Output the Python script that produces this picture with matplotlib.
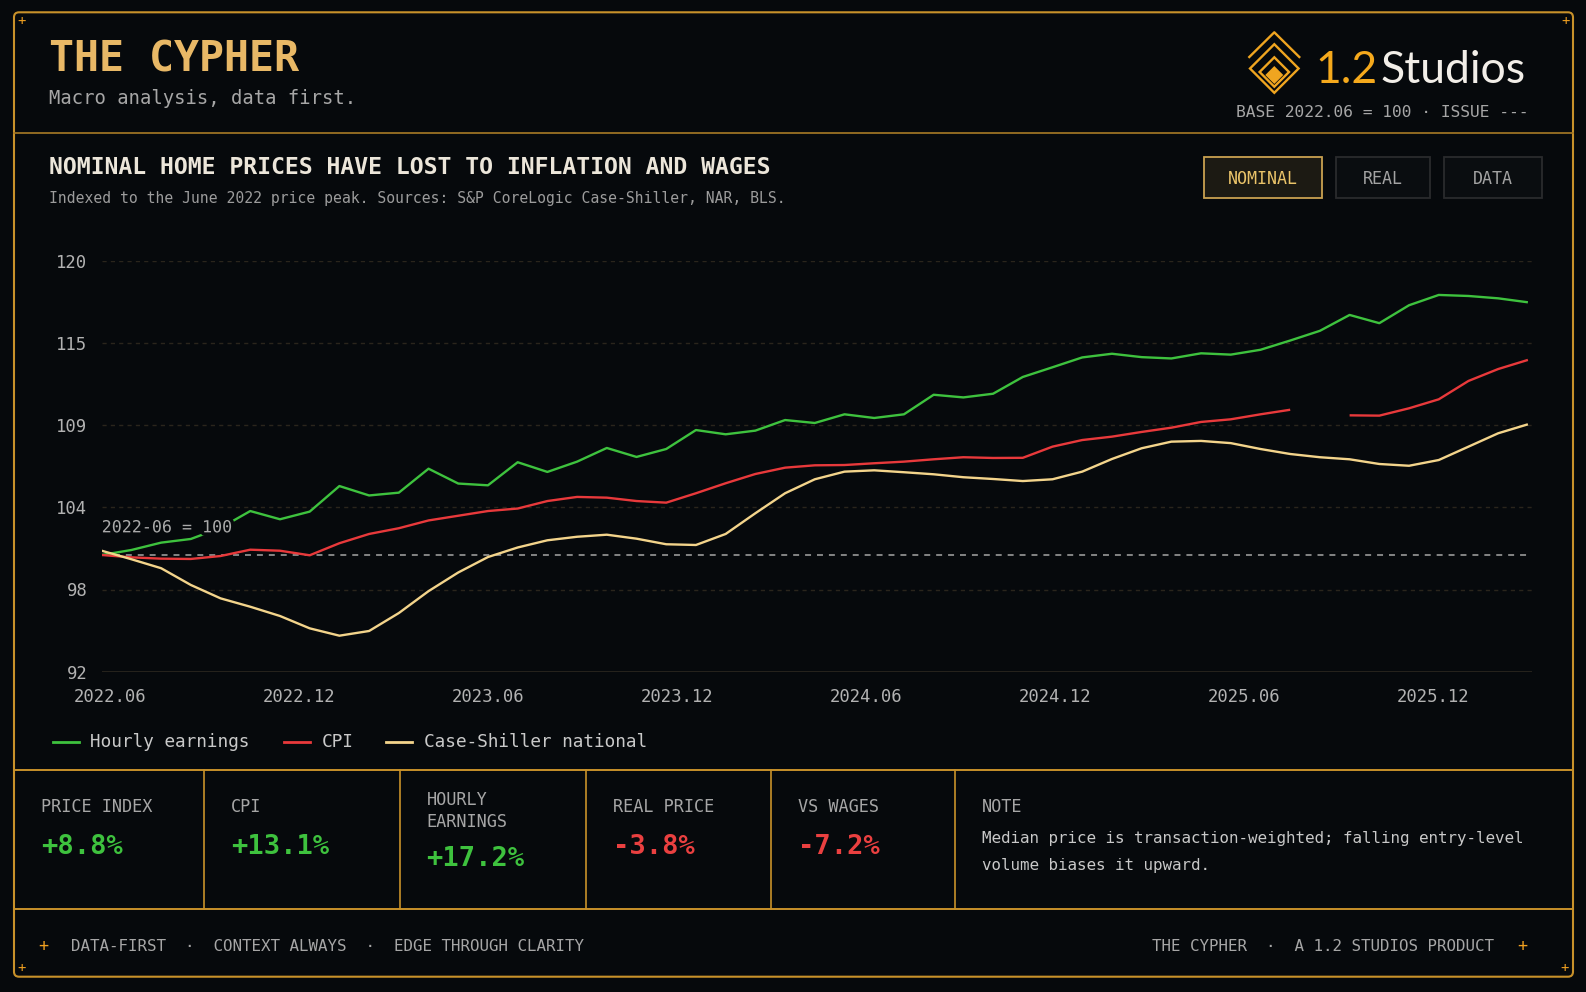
"""
The Cypher card: nominal home prices vs. CPI and hourly earnings.

Dark dashboard layout with header, indexed line chart (June 2022 = 100),
legend, a strip of headline stats and a footer.
"""

import matplotlib

matplotlib.use('Agg')

import matplotlib.pyplot as plt
import matplotlib.patheffects as pe
import numpy as np
from matplotlib.lines import Line2D
from matplotlib.patches import FancyBboxPatch, Polygon, Rectangle

# ------------------------------------------------------------------ data
hourly_earnings = [
    100.00, 100.34, 100.84, 101.09, 101.84, 102.99, 102.43, 102.95, 104.69, 104.05,
    104.24, 105.87, 104.86, 104.74, 106.31, 105.65, 106.35, 107.28, 106.67, 107.21,
    108.50, 108.21, 108.46, 109.18, 108.98, 109.57, 109.32, 109.57, 110.90, 110.72,
    110.97, 112.11, 112.77, 113.44, 113.69, 113.46, 113.37, 113.72, 113.63, 113.96,
    114.59, 115.25, 116.33, 115.77, 116.99, 117.69, 117.62, 117.46, 117.19,
]
cpi = [
    100.00, 99.84, 99.75, 99.73, 99.93, 100.36, 100.29, 99.98, 100.80, 101.43,
    101.82, 102.35, 102.67, 102.99, 103.16, 103.67, 103.95, 103.90, 103.67, 103.56,
    104.20, 104.88, 105.51, 105.94, 106.10, 106.12, 106.24, 106.35, 106.51, 106.65,
    106.60, 106.61, 107.37, 107.82, 108.05, 108.37, 108.66, 109.05, 109.23, 109.57,
    109.88, np.nan, 109.50, 109.48, 109.98, 110.59, 111.84, 112.65, 113.27,
]
case_shiller = [
    100.29, 99.71, 99.10, 97.96, 97.05, 96.48, 95.85, 95.01, 94.51, 94.83,
    96.05, 97.54, 98.81, 99.86, 100.51, 101.00, 101.24, 101.38, 101.11, 100.73,
    100.68, 101.43, 102.84, 104.20, 105.15, 105.67, 105.76, 105.63, 105.49, 105.29,
    105.17, 105.03, 105.15, 105.67, 106.53, 107.26, 107.71, 107.76, 107.61, 107.21,
    106.87, 106.65, 106.51, 106.19, 106.07, 106.46, 107.37, 108.28, 108.89,
]

series_names = ['Hourly earnings', 'CPI', 'Case-Shiller national']
series_values = [hourly_earnings, cpi, case_shiller]
series_colors = ['#3ec23e', '#e8393b', '#f3d48b']

base_value = 100
x_tick_labels = ['2022.06', '2022.12', '2023.06', '2023.12',
                 '2024.06', '2024.12', '2025.06', '2025.12']
y_tick_labels = ['92', '98', '104', '109', '115', '120']

stat_labels = ['PRICE INDEX', 'CPI', 'HOURLY\nEARNINGS', 'REAL PRICE', 'VS WAGES']
stat_values = ['+8.8%', '+13.1%', '+17.2%', '-3.8%', '-7.2%']
note_lines = ['Median price is transaction-weighted; falling entry-level',
              'volume biases it upward.']
buttons = ['NOMINAL', 'REAL', 'DATA']

# ---------------------------------------------------------------- styling
W, H = 1586, 992
BG = '#06090c'
GOLD = '#c8912a'
GOLD_TXT = '#e8b866'
GRID = '#2a251c'
MUTED = '#a6a6a6'
LIGHT = '#c9c9c9'
POS, NEG = '#3ec23e', '#ea4040'
MONO = 'DejaVu Sans Mono'

plt.rcParams['font.family'] = [MONO, 'DejaVu Sans']

fig = plt.figure(figsize=(W / 100, H / 100), dpi=100, facecolor=BG)

# full-figure layer in pixel units (y grows downward) for the card chrome
card = fig.add_axes([0, 0, 1, 1])
card.set_xlim(0, W)
card.set_ylim(H, 0)
card.axis('off')
card.set_zorder(0)

FRAME_L, FRAME_R, FRAME_T, FRAME_B = 14, 1573, 12.3, 976.7
card.add_patch(FancyBboxPatch((FRAME_L, FRAME_T), FRAME_R - FRAME_L, FRAME_B - FRAME_T,
                              boxstyle='round,pad=0,rounding_size=5',
                              fill=False, edgecolor=GOLD, lw=1.5))
for cx, cy in [(21.5, 21), (1565.5, 21.5), (22, 968), (1565, 968)]:
    card.text(cx, cy, '+', color='#f0a020', fontsize=10, ha='center', va='center')

# header
card.text(49, 71.7, 'THE CYPHER', color=GOLD_TXT, fontsize=30, fontweight='bold',
          va='baseline')
card.text(49, 104.5, 'Macro analysis, data first.', color=MUTED, fontsize=13.6,
          va='baseline')
card.plot([FRAME_L, FRAME_R], [132.7, 132.7], color='#a87a26', lw=1.2)

# logo mark
lx, lw_ = 1274.3, 1.7
card.add_line(Line2D([lx - 25, lx, lx + 25], [57, 32.3, 57], color='#f0a520', lw=lw_))
for cy, half, filled in [(68.5, 24.3, False), (72, 14.7, False), (75, 7.3, True)]:
    card.add_patch(Polygon([(lx, cy - half), (lx + half, cy), (lx, cy + half), (lx - half, cy)],
                           closed=True, fill=filled, facecolor='#f0a520',
                           edgecolor='#f0a520', lw=lw_))
card.text(1315, 83, '1.2', color='#f5a91c', fontsize=32, family='Lato',
          fontweight='normal', va='baseline')
card.text(1380, 83, 'Studios', color='#f2eee8', fontsize=32, family='Lato',
          fontweight='normal', va='baseline')
card.text(1528, 117, 'BASE 2022.06 = 100 \u00b7 ISSUE ---', color=MUTED, fontsize=11.7,
          ha='right', va='baseline')

# chart heading
card.text(49, 174, 'NOMINAL HOME PRICES HAVE LOST TO INFLATION AND WAGES',
          color='#ece6da', fontsize=16.7, fontweight='bold', va='baseline')
card.text(49, 202.5, 'Indexed to the June 2022 price peak. Sources: S&P CoreLogic '
          'Case-Shiller, NAR, BLS.', color='#9c9c9c', fontsize=10.6, va='baseline')

# toggle buttons, first one active
btn_x = [(1204, 1321.7), (1336, 1430.3), (1444.3, 1541.7)]
for i, (label, (x0, x1)) in enumerate(zip(buttons, btn_x)):
    active = i == 0
    card.add_patch(Rectangle((x0, 157.3), x1 - x0, 40.4,
                             facecolor='#1c1a13' if active else '#0a0d10',
                             edgecolor='#c9a150' if active else '#2a2b2d', lw=1.3))
    card.text((x0 + x1) / 2, 183.6, label, color='#ebc469' if active else '#a3a3a3',
              fontsize=12, ha='center', va='baseline')

# ------------------------------------------------------------------ chart
AX_L, AX_R, AX_T, AX_B = 101.7, 1531.7, 260.7, 671.7
ax = fig.add_axes([AX_L / W, 1 - AX_B / H, (AX_R - AX_L) / W, (AX_B - AX_T) / H])
ax.set_zorder(2)
ax.patch.set_alpha(0)

# samples are evenly spaced; x is measured in months since 2022.06
px_per_month = 188.9 / 6
months = np.linspace(-0.28, 45.02, len(hourly_earnings))
ax.set_xlim(months[0], months[0] + (AX_R - AX_L) / px_per_month)
Y_LO, Y_HI = 92.06, 120.02
ax.set_ylim(Y_LO, Y_HI)

y_ticks = np.linspace(Y_LO, Y_HI, len(y_tick_labels))
ax.set_yticks(y_ticks)
ax.set_yticklabels(y_tick_labels)
ax.set_xticks(np.arange(len(x_tick_labels)) * 6)
ax.set_xticklabels(x_tick_labels)
ax.tick_params(axis='both', length=0, colors='#b2b2b2', labelsize=12.4)
ax.tick_params(axis='y', pad=10.4)
ax.tick_params(axis='x', pad=12)
for s in ax.spines.values():
    s.set_visible(False)

for y in y_ticks[1:]:
    ax.axhline(y, color=GRID, lw=1, dashes=(3, 3), zorder=1)
ax.axhline(y_ticks[0], color='#2c2820', lw=1.2, zorder=1)
ax.axhline(base_value, color='#8e8e8e', lw=1.3, dashes=(3.3, 3.3), zorder=1)

for name, vals, color in zip(series_names, series_values, series_colors):
    ax.plot(months, vals, color=color, lw=1.7, solid_joinstyle='round',
            solid_capstyle='butt', zorder=3, label=name)

ax.annotate('2022-06 = 100', xy=(months[0], base_value), xytext=(0, 16.3),
            textcoords='offset points', color='#a9a9a9', fontsize=12,
            ha='left', va='baseline', zorder=5,
            path_effects=[pe.withStroke(linewidth=5, foreground=BG)])

# legend drawn by hand so it sits flush under the axis labels
char_w = 0.602 * 12.8 * 100 / 72
lx0, ly = 52.5, 742.3
for name, color in zip(series_names, series_colors):
    card.add_line(Line2D([lx0, lx0 + 26], [ly, ly], color=color, lw=2))
    card.text(lx0 + 38, ly, name, color=LIGHT, fontsize=12.8, va='center')
    lx0 += 38 + len(name) * char_w + 32.5

# ------------------------------------------------------------ stats strip
STRIP_T, STRIP_B = 770, 909
card.plot([FRAME_L, FRAME_R], [STRIP_T, STRIP_T], color=GOLD, lw=1.4)
card.plot([FRAME_L, FRAME_R], [STRIP_B, STRIP_B], color=GOLD, lw=1.4)
dividers = [204, 399.5, 585.7, 770.5, 955]
for x in dividers:
    card.plot([x, x], [STRIP_T, STRIP_B], color=GOLD, lw=1.2)

cell_left = [FRAME_L] + dividers
for x0, label, value in zip(cell_left, stat_labels, stat_values):
    lines = label.split('\n')
    extra = len(lines) - 1
    for k, line in enumerate(lines):
        card.text(x0 + 27, 812.3 - extra * 7 + k * 21.4, line, color=MUTED,
                  fontsize=12.2, va='baseline')
    card.text(x0 + 27, 854.5 + extra * 12, value,
              color=NEG if value.startswith('-') else POS,
              fontsize=19.5, fontweight='bold', va='baseline')

card.text(dividers[-1] + 27, 812.3, 'NOTE', color=MUTED, fontsize=12.2, va='baseline')
for k, line in enumerate(note_lines):
    card.text(dividers[-1] + 27, 843.3 + k * 26.7, line, color=LIGHT, fontsize=11.4,
              va='baseline')

# ----------------------------------------------------------------- footer
card.text(43.4, 946, '+', color='#f0a020', fontsize=12, ha='center', va='center')
card.text(71.4, 950.7, 'DATA-FIRST  \u00b7  CONTEXT ALWAYS  \u00b7  EDGE THROUGH CLARITY',
          color=MUTED, fontsize=11.4, va='baseline')
card.text(1494, 950.7, 'THE CYPHER  \u00b7  A 1.2 STUDIOS PRODUCT', color=MUTED,
          fontsize=11.4, ha='right', va='baseline')
card.text(1522, 946, '+', color='#f0a020', fontsize=12, ha='center', va='center')

fig.savefig('out.png', dpi=100, facecolor=BG)
plt.close(fig)
